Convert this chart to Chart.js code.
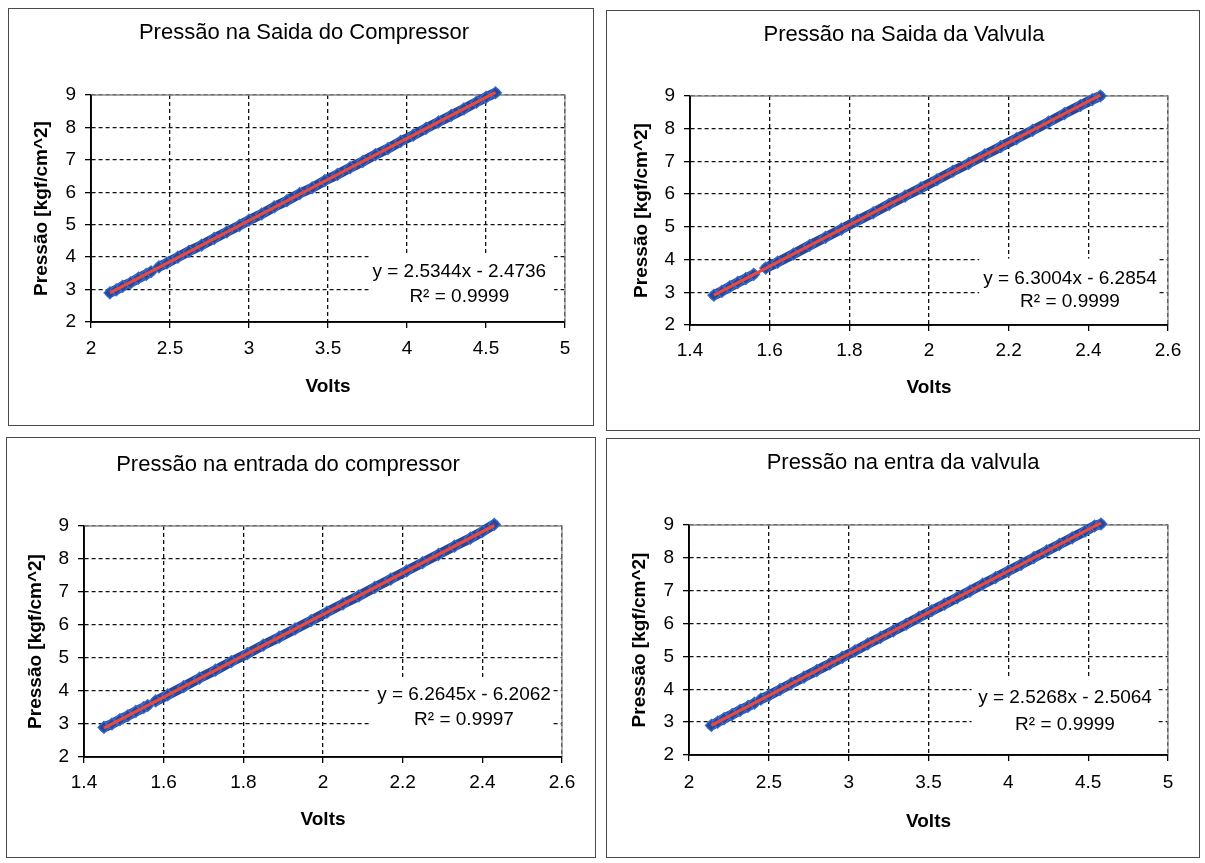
<!DOCTYPE html>
<html><head><meta charset="utf-8">
<script src="https://cdn.jsdelivr.net/npm/chart.js@4.4.1/dist/chart.umd.min.js"></script>
<style>
html,body{margin:0;padding:0;background:#fff;width:1205px;height:863px;overflow:hidden;}
.panel{position:absolute;border:1px solid #4a4a4a;box-sizing:border-box;background:#fff;}
.panel canvas{position:absolute;left:0;top:0;}
</style></head><body>
<div class="panel" id="p1"><canvas id="c1"></canvas></div>
<div class="panel" id="p2"><canvas id="c2"></canvas></div>
<div class="panel" id="p3"><canvas id="c3"></canvas></div>
<div class="panel" id="p4"><canvas id="c4"></canvas></div>
<script>
// ---------- DATA ----------
// 1) Pressão na Saida do Compressor
const voltsSaidaCompressor   = [2.12,2.16,2.20,2.25,2.30,2.35,2.38,2.43,2.48,2.55,2.62,2.70,2.78,2.86,2.94,3.00,3.08,3.16,3.24,3.32,3.40,3.48,3.56,3.64,3.72,3.80,3.88,3.96,4.04,4.12,4.20,4.28,4.36,4.44,4.50,4.56];
const pressaoSaidaCompressor = [2.90,2.99,3.10,3.21,3.35,3.47,3.55,3.70,3.82,4.00,4.18,4.37,4.58,4.78,4.98,5.14,5.33,5.55,5.74,5.96,6.14,6.36,6.55,6.76,6.95,7.16,7.35,7.57,7.76,7.97,8.17,8.37,8.57,8.78,8.93,9.07];
const trendVoltsSaidaCompressor   = [2.12, 4.56];
const trendPressaoSaidaCompressor = [2.899, 9.083];
const eqSaidaCompressor = ["y = 2.5344x - 2.4736", "R\u00B2 = 0.9999"];

// 2) Pressão na Saida da Valvula
const voltsSaidaValvula   = [1.46,1.48,1.50,1.52,1.54,1.56,1.59,1.62,1.66,1.70,1.74,1.78,1.82,1.86,1.90,1.94,1.98,2.02,2.06,2.10,2.14,2.18,2.22,2.26,2.30,2.34,2.38,2.41,2.43];
const pressaoSaidaValvula = [2.91,3.03,3.17,3.30,3.42,3.55,3.74,3.92,4.17,4.43,4.68,4.93,5.19,5.43,5.69,5.94,6.19,6.44,6.70,6.94,7.20,7.45,7.70,7.95,8.20,8.46,8.71,8.89,9.00];
const trendVoltsSaidaValvula   = [1.46, 2.43];
const trendPressaoSaidaValvula = [2.913, 9.025];
const eqSaidaValvula = ["y = 6.3004x - 6.2854", "R\u00B2 = 0.9999"];

// 3) Pressão na entrada do compressor
const voltsEntradaCompressor   = [1.45,1.47,1.49,1.51,1.53,1.55,1.56,1.58,1.61,1.65,1.69,1.73,1.77,1.81,1.85,1.89,1.93,1.97,2.01,2.05,2.09,2.13,2.17,2.21,2.25,2.29,2.33,2.37,2.40,2.43];
const pressaoEntradaCompressor = [2.90,3.00,3.13,3.25,3.38,3.50,3.56,3.70,3.88,4.13,4.39,4.63,4.89,5.13,5.39,5.63,5.88,6.13,6.39,6.64,6.88,7.14,7.39,7.64,7.89,8.14,8.39,8.63,8.83,9.05];
const trendVoltsEntradaCompressor   = [1.45, 2.43];
const trendPressaoEntradaCompressor = [2.877, 9.016];
const eqEntradaCompressor = ["y = 6.2645x - 6.2062", "R\u00B2 = 0.9997"];

// 4) Pressão na entra da valvula
const voltsEntradaValvula   = [2.14,2.18,2.22,2.27,2.32,2.37,2.41,2.45,2.50,2.57,2.64,2.72,2.80,2.88,2.96,3.04,3.12,3.20,3.28,3.36,3.44,3.52,3.60,3.68,3.76,3.84,3.92,4.00,4.08,4.16,4.24,4.32,4.40,4.48,4.54,4.58];
const pressaoEntradaValvula = [2.90,3.00,3.11,3.23,3.36,3.48,3.58,3.70,3.81,3.99,4.17,4.37,4.57,4.77,4.97,5.17,5.38,5.58,5.78,5.98,6.19,6.39,6.59,6.79,6.99,7.20,7.40,7.60,7.80,8.01,8.21,8.41,8.61,8.81,8.97,9.03];
const trendVoltsEntradaValvula   = [2.14, 4.58];
const trendPressaoEntradaValvula = [2.901, 9.066];
const eqEntradaValvula = ["y = 2.5268x - 2.5064", "R\u00B2 = 0.9999"];

// Tick labels
const xTicksCompressor = [2, 2.5, 3, 3.5, 4, 4.5, 5];
const xTicksValvula    = [1.4, 1.6, 1.8, 2, 2.2, 2.4, 2.6];
const yTicksPressao    = [2, 3, 4, 5, 6, 7, 8, 9];

const titles = ["Pressão na Saida do Compressor", "Pressão na Saida da Valvula",
                "Pressão na entrada do compressor", "Pressão na entra da valvula"];
const xTitle = "Volts";
const yTitle = "Pressão [kgf/cm^2]";

// ---------- LAYOUT / STYLE ----------
const FONT = "'Liberation Sans', Arial, sans-serif";
const BLUE = '#27479a', BLUE_EDGE = '#3a6fd2', RED = '#ea4a3e';
const TITLE_SIZE = 22, TICK_SIZE = 19, AXIS_SIZE = 19, EQ_SIZE = 19;

const panels = [
  {id:'1', box:{l:8,t:8,w:586,h:418}, plot:{l:91,r:565,t:95,b:322}, titleX:304, titleY:33, tickY:349, xTitleY:387, yTitleX:42,
   xs:voltsSaidaCompressor, ys:pressaoSaidaCompressor, tx:trendVoltsSaidaCompressor, ty:trendPressaoSaidaCompressor,
   xticks:xTicksCompressor, eq:eqSaidaCompressor, gap:6, label:{bx0:0.586,bx1:0.977,by0:0.696,l1x:0.777,l1y:0.78,l2y:0.89}},
  {id:'2', box:{l:606,t:10,w:594,h:421}, plot:{l:690,r:1168,t:96,b:325}, titleX:904, titleY:35, tickY:351, xTitleY:388, yTitleX:642,
   xs:voltsSaidaValvula, ys:pressaoSaidaValvula, tx:trendVoltsSaidaValvula, ty:trendPressaoSaidaValvula,
   xticks:xTicksValvula, eq:eqSaidaValvula, gap:5, label:{bx0:0.605,bx1:0.98,by0:0.71,l1x:0.795,l1y:0.80,l2y:0.90}},
  {id:'3', box:{l:6,t:437,w:590,h:421}, plot:{l:84,r:562,t:526,b:757}, titleX:288, titleY:465, tickY:783, xTitleY:820, yTitleX:36,
   xs:voltsEntradaCompressor, ys:pressaoEntradaCompressor, tx:trendVoltsEntradaCompressor, ty:trendPressaoEntradaCompressor,
   xticks:xTicksValvula, eq:eqEntradaCompressor, gap:6, label:{bx0:0.60,bx1:0.98,by0:0.66,l1x:0.795,l1y:0.73,l2y:0.84}},
  {id:'4', box:{l:606,t:438,w:594,h:420}, plot:{l:689,r:1168,t:525,b:755}, titleX:903, titleY:463, tickY:783, xTitleY:822, yTitleX:640,
   xs:voltsEntradaValvula, ys:pressaoEntradaValvula, tx:trendVoltsEntradaValvula, ty:trendPressaoEntradaValvula,
   xticks:xTicksCompressor, eq:eqEntradaValvula, gap:6, label:{bx0:0.59,bx1:0.98,by0:0.67,l1x:0.785,l1y:0.75,l2y:0.87}}
];

const framePlugin = {
  id: 'frameEq',
  beforeDatasetsDraw(chart, args, o) {
    const {ctx, chartArea: a} = chart;
    const L = o.label, w = a.right - a.left, h = a.bottom - a.top;
    ctx.save();
    ctx.fillStyle = '#fff';
    ctx.fillRect(a.left + L.bx0 * w, a.top + L.by0 * h, (L.bx1 - L.bx0) * w, (1 - L.by0) * h - 1);
    ctx.strokeStyle = '#8c8c8c';
    ctx.lineWidth = 1.3;
    ctx.beginPath();
    ctx.moveTo(a.left, a.top); ctx.lineTo(a.right, a.top); ctx.lineTo(a.right, a.bottom);
    ctx.stroke();
    ctx.strokeStyle = '#000';
    ctx.lineWidth = 1.6;
    ctx.beginPath();
    ctx.moveTo(a.left, a.top); ctx.lineTo(a.left, a.bottom); ctx.lineTo(a.right, a.bottom);
    ctx.stroke();
    ctx.restore();
  },
  afterDatasetsDraw(chart, args, o) {
    const {ctx, chartArea: a} = chart;
    const L = o.label, w = a.right - a.left, h = a.bottom - a.top;
    ctx.save();
    ctx.fillStyle = '#000';
    ctx.font = EQ_SIZE + 'px ' + FONT;
    ctx.textAlign = 'center';
    ctx.textBaseline = 'middle';
    ctx.fillText(o.eq[0], a.left + L.l1x * w, a.top + L.l1y * h);
    ctx.fillText(o.eq[1], a.left + L.l1x * w, a.top + L.l2y * h);
    ctx.restore();
  }
};

panels.forEach(p => {
  const div = document.getElementById('p' + p.id);
  div.style.left = p.box.l + 'px'; div.style.top = p.box.t + 'px';
  div.style.width = p.box.w + 'px'; div.style.height = p.box.h + 'px';
  const cL = p.box.l + 1, cT = p.box.t + 1, cW = p.box.w - 2, cH = p.box.h - 2;
  const cv = document.getElementById('c' + p.id);
  cv.width = cW; cv.height = cH;
  cv.style.width = cW + 'px'; cv.style.height = cH + 'px';

  // horizontal centring of the title via layout padding
  const d = 2 * (p.titleX - cL) - cW;
  const padL = d > 0 ? d : 0, padRt = d < 0 ? -d : 0;
  const yW = p.plot.l - cL - padL;
  const rightSpace = (cL + cW) - p.plot.r - padRt;
  const xH = (cT + cH) - p.plot.b;
  const topH = p.plot.t - cT;
  const tLH = TITLE_SIZE * 1.2;
  const tPadTop = p.titleY - cT - tLH / 2;
  const tPadBot = topH - tPadTop - tLH;
  const tickLen = 6;
  const aLH = AXIS_SIZE * 1.2, kLH = TICK_SIZE * 1.2;
  const xTickPad = (p.tickY - p.plot.b) - tickLen - kLH / 2;
  const xTitlePadBot = (cT + cH) - p.xTitleY - aLH / 2;
  const yTitlePadTop = p.yTitleX - cL - padL - aLH / 2;

  const pts = p.xs.map((x, i) => ({x: x, y: p.ys[i]}));
  const trend = p.tx.map((x, i) => ({x: x, y: p.ty[i]}));
  const gridCommon = {color: '#111', lineWidth: 1.3, drawTicks: true, tickLength: tickLen, tickColor: '#000', tickWidth: 1.3, tickBorderDash: []};

  new Chart(cv, {
    type: 'scatter',
    data: {
      datasets: [
        {label: 'Linear', data: trend, showLine: true, borderColor: RED, borderWidth: 3.2, pointRadius: 0, clip: false},
        {label: 'Pressão', data: pts, showLine: true, borderColor: BLUE, borderWidth: 10,
         borderCapStyle: 'round',
         segment: {borderColor: ctx => ctx.p0DataIndex === p.gap ? 'rgba(0,0,0,0)' : BLUE},
         pointStyle: 'rectRot', pointRadius: 6, pointBackgroundColor: BLUE, pointBorderColor: BLUE_EDGE,
         pointBorderWidth: 1.2, clip: false}
      ]
    },
    options: {
      responsive: false, animation: false, devicePixelRatio: 1,
      layout: {padding: {left: padL, right: padRt, top: 0, bottom: 0}},
      plugins: {
        legend: {display: false}, tooltip: {enabled: false},
        title: {display: true, text: titles[+p.id - 1], color: '#000',
                font: {family: FONT, size: TITLE_SIZE, weight: 'normal', lineHeight: 1.2},
                padding: {top: tPadTop, bottom: tPadBot}},
        frameEq: {label: p.label, eq: p.eq}
      },
      scales: {
        x: {type: 'linear', min: p.xticks[0], max: p.xticks[p.xticks.length - 1],
            afterBuildTicks: s => { s.ticks = p.xticks.map(v => ({value: v})); },
            afterFit: s => { s.height = xH; },
            grid: gridCommon,
            border: {display: true, color: '#000', width: 1.6, dash: [4, 3]},
            ticks: {color: '#000', padding: xTickPad, maxRotation: 0, autoSkip: false,
                    font: {family: FONT, size: TICK_SIZE}, callback: v => String(Math.round(v * 10) / 10)},
            title: {display: true, text: xTitle, color: '#000', font: {family: FONT, size: AXIS_SIZE, weight: 'bold', lineHeight: 1.2},
                    padding: {top: 0, bottom: xTitlePadBot}}},
        y: {type: 'linear', min: yTicksPressao[0], max: yTicksPressao[yTicksPressao.length - 1],
            afterBuildTicks: s => { s.ticks = yTicksPressao.map(v => ({value: v})); },
            afterFit: s => { s.width = yW; },
            grid: gridCommon,
            border: {display: true, color: '#000', width: 1.6, dash: [4, 3]},
            ticks: {color: '#000', padding: 9, font: {family: FONT, size: TICK_SIZE}, callback: v => String(v)},
            title: {display: true, text: yTitle, color: '#000', font: {family: FONT, size: AXIS_SIZE, weight: 'bold', lineHeight: 1.2},
                    padding: {top: yTitlePadTop, bottom: 0}}},
        yRightSpace: {type: 'linear', position: 'right', display: true, min: 0, max: 1,
            afterFit: s => { s.width = rightSpace; },
            grid: {display: false, drawTicks: false}, border: {display: false},
            ticks: {display: false}, title: {display: false}}
      }
    },
    plugins: [framePlugin]
  });
});
</script>
</body></html>
